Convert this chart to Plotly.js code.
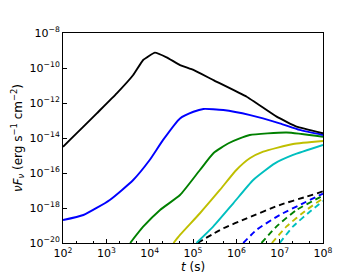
<!DOCTYPE html>
<html><head><meta charset="utf-8">
<script src="https://cdn.plot.ly/plotly-3.0.1.min.js"></script>
<style>body{margin:0;padding:0;background:#fff}#c{width:359px;height:278px}</style>
</head><body><div id="c"></div>
<script>
// log10(t) and log10(nuF_nu)
const blackLogT  = [2.0, 2.16, 2.78, 3.24, 3.62, 3.85, 4.12, 4.39, 4.70, 5.01, 5.47, 6.24, 6.93, 7.39, 8.0];
const blackLogF  = [-14.5, -14.11, -12.59, -11.45, -10.4, -9.54, -9.12, -9.39, -9.83, -10.11, -10.69, -11.64, -12.78, -13.35, -13.73];
const blueLogT   = [2.0, 2.47, 3.08, 3.62, 4.0, 4.31, 4.70, 5.01, 5.24, 5.70, 6.32, 7.0, 7.46, 8.0];
const blueLogF   = [-18.69, -18.4, -17.54, -16.4, -15.26, -14.11, -12.88, -12.5, -12.34, -12.4, -12.69, -13.16, -13.54, -13.83];
const greenLogT  = [3.55, 3.85, 4.24, 4.70, 5.16, 5.47, 5.82, 6.05, 6.31, 7.16, 8.0];
const greenLogF  = [-20.0, -19.07, -18.11, -17.26, -15.83, -14.87, -14.3, -14.05, -13.83, -13.69, -13.93];
const yellowLogT = [4.55, 4.70, 5.16, 5.62, 6.0, 6.31, 6.62, 7.31, 8.0];
const yellowLogF = [-20.0, -19.54, -18.3, -16.97, -15.83, -15.16, -14.78, -14.34, -14.17];
const cyanLogT   = [5.08, 5.47, 5.93, 6.39, 6.89, 7.31, 8.0];
const cyanLogF   = [-20.0, -19.05, -17.73, -16.4, -15.45, -14.97, -14.4];
const blackDLogT  = [5.1, 5.70, 6.24, 7.0, 7.62, 8.0];
const blackDLogF  = [-20.0, -19.16, -18.59, -17.83, -17.35, -17.05];
const blueDLogT   = [6.16, 6.47, 7.0, 7.54, 8.0];
const blueDLogF   = [-20.0, -19.24, -18.4, -17.73, -17.18];
const greenDLogT  = [6.58, 6.93, 7.39, 8.0];
const greenDLogF  = [-20.0, -19.05, -18.11, -17.3];
const yellowDLogT = [6.82, 7.16, 7.62, 8.0];
const yellowDLogF = [-20.0, -19.05, -18.11, -17.45];
const cyanDLogT   = [7.0, 7.31, 7.70, 8.0];
const cyanDLogF   = [-20.0, -19.05, -18.2, -17.6];

const xTickVals = [1e2, 1e3, 1e4, 1e5, 1e6, 1e7, 1e8];
const xTickText = ['10<sup>2</sup>','10<sup>3</sup>','10<sup>4</sup>','10<sup>5</sup>','10<sup>6</sup>','10<sup>7</sup>','10<sup>8</sup>'];
const yTickVals = [1e-20, 1e-18, 1e-16, 1e-14, 1e-12, 1e-10, 1e-8];
const yTickText = ['10<sup>−20</sup>','10<sup>−18</sup>','10<sup>−16</sup>','10<sup>−14</sup>','10<sup>−12</sup>','10<sup>−10</sup>','10<sup>−8</sup>'];

const p = v => v.map(e => Math.pow(10, e));
function tr(lt, lf, color, dash, sm){
  return {x:p(lt), y:p(lf), mode:'lines',
    line:{color:color, width:1.9, dash:dash||'solid', shape:'spline', smoothing:sm==null?0.5:sm},
    hoverinfo:'skip', showlegend:false};
}
const D = '6px,4px';
const data = [
  tr(blackDLogT, blackDLogF, '#000000', D),
  tr(blueDLogT, blueDLogF, '#0000ff', D),
  tr(greenDLogT, greenDLogF, '#008000', D),
  tr(yellowDLogT, yellowDLogF, '#bfbf00', D),
  tr(cyanDLogT, cyanDLogF, '#00bfbf', D),
  tr(cyanLogT, cyanLogF, '#00bfbf'),
  tr(yellowLogT, yellowLogF, '#bfbf00'),
  tr(greenLogT, greenLogF, '#008000'),
  tr(blueLogT, blueLogF, '#0000ff'),
  tr(blackLogT, blackLogF, '#000000', 'solid', 0.3)
];
const layout = {
  width:359, height:278,
  margin:{l:63, r:36, t:33, b:35},
  paper_bgcolor:'#fff', plot_bgcolor:'#fff',
  font:{family:'DejaVu Sans, sans-serif', size:10, color:'#000'},
  xaxis:{type:'log', range:[2,8], tickvals:xTickVals, ticktext:xTickText,
    ticks:'inside', ticklen:4, tickwidth:1, tickcolor:'#000',
    showline:true, linecolor:'#000', linewidth:1, mirror:true,
    showgrid:false, zeroline:false,
    minor:{ticks:'inside', ticklen:2, tickcolor:'#000', showgrid:false},
    tickfont:{family:'DejaVu Sans, sans-serif', size:11, color:'#000'},
    title:{text:'<i>t</i> (s)', font:{family:'DejaVu Sans, sans-serif', size:12, color:'#000'}, standoff:2}},
  yaxis:{type:'log', range:[-20,-8], tickvals:yTickVals, ticktext:yTickText,
    ticks:'inside', ticklen:4, tickwidth:1, tickcolor:'#000',
    showline:true, linecolor:'#000', linewidth:1, mirror:true,
    showgrid:false, zeroline:false,
    tickfont:{family:'DejaVu Sans, sans-serif', size:11, color:'#000'},
    title:{text:'<i>νF<sub>ν</sub></i> (erg s<sup>−1</sup> cm<sup>−2</sup>)', font:{family:'DejaVu Sans, sans-serif', size:12, color:'#000'}, standoff:4}}
};
Plotly.newPlot('c', data, layout, {displayModeBar:false, staticPlot:true});
</script></body></html>
